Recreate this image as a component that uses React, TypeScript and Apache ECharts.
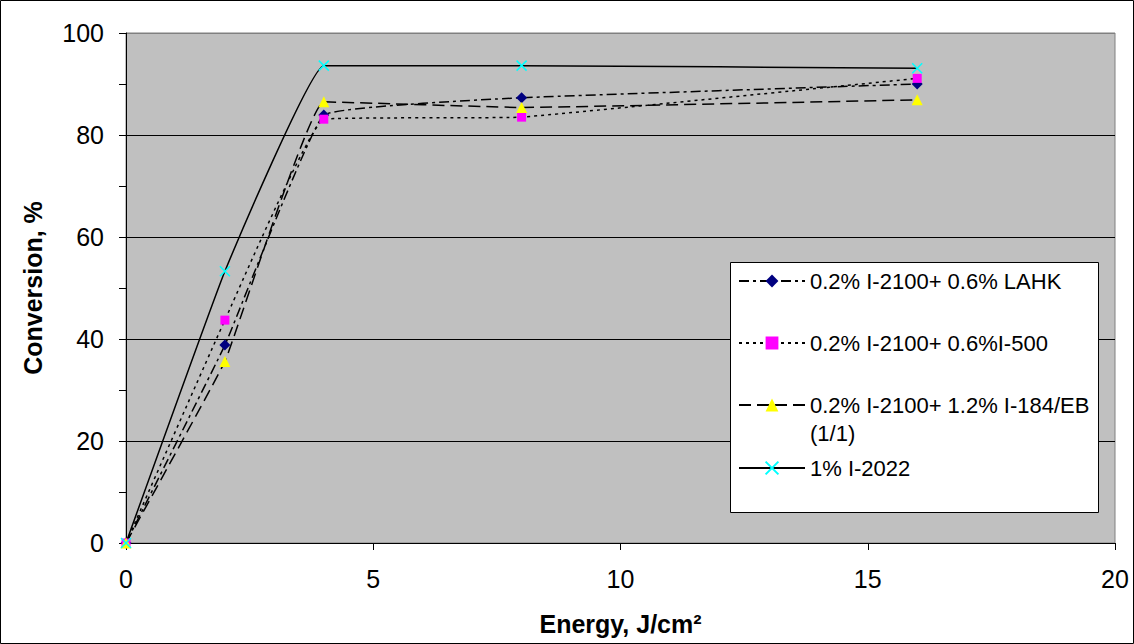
import React, { useEffect, useRef } from "react";
import * as echarts from "echarts";

const energy = [0, 2, 4, 8, 16];
const seriesNames = [
  "0.2% I-2100+ 0.6% LAHK",
  "0.2% I-2100+ 0.6%I-500",
  "0.2% I-2100+ 1.2% I-184/EB",
  "1% I-2022",
];
const lahk = [0, 38.8, 83.9, 87.3, 90.0];
const i500 = [0, 43.7, 83.1, 83.5, 91.1];
const i184 = [0, 35.6, 86.5, 85.4, 86.9];
const i2022 = [0, 53.3, 93.6, 93.6, 93.1];
const xTicks = [0, 5, 10, 15, 20];
const yTicks = [0, 20, 40, 60, 80, 100];

const FONT = 'Arial, "Liberation Sans", sans-serif';

function pairs(vals: number[]) {
  return energy.map((e, i) => [e, vals[i]]);
}

export default function App() {
  const ref = useRef<HTMLDivElement>(null);
  useEffect(() => {
    if (!ref.current) return;
    const chart = echarts.init(ref.current, undefined, { renderer: "svg" });
    const lineBase = { color: "#000", width: 1.5 };
    const legendRows = [281, 343, 405, 468];
    const legends = seriesNames.map((name, i) => ({
      show: true,
      orient: "vertical",
      left: 738,
      top: i === 2 ? legendRows[i] - 42 : legendRows[i] - 14,
      padding: 0,
      itemWidth: 66,
      itemHeight: 16,
      itemGap: 0,
      selectedMode: false,
      z: 10,
      data: [{ name }],
      formatter: i === 2 ? () => " \n0.2% I-2100+ 1.2% I-184/EB\n(1/1)" : undefined,
      textStyle: { fontSize: 22, lineHeight: 28, color: "#000", fontFamily: FONT },
    }));
    chart.setOption({
      animation: false,
      backgroundColor: "#fff",
      textStyle: { fontFamily: FONT },
      grid: {
        left: 126,
        top: 33,
        right: 19,
        bottom: 101,
        show: true,
        backgroundColor: "#c0c0c0",
        borderColor: "#808080",
        borderWidth: 1,
        containLabel: false,
      },
      legend: legends,
      graphic: [
        {
          type: "rect",
          z: 100,
          shape: { x: 0.5, y: 0.5, width: 1133, height: 643 },
          style: { fill: "none", stroke: "#000", lineWidth: 1 },
          silent: true,
        },
        {
          type: "rect",
          z: 5,
          shape: { x: 730.5, y: 262.5, width: 368, height: 250 },
          style: { fill: "#fff", stroke: "#000", lineWidth: 1 },
          silent: true,
        },
      ],
      xAxis: {
        type: "value",
        min: xTicks[0],
        max: xTicks[xTicks.length - 1],
        interval: xTicks[1] - xTicks[0],
        name: "Energy, J/cm²",
        nameLocation: "middle",
        nameGap: 68,
        nameTextStyle: { fontSize: 25, fontWeight: "bold", color: "#000", fontFamily: FONT },
        axisLine: { show: true, onZero: false, lineStyle: { color: "#000", width: 1 } },
        axisTick: { show: true, length: 7, lineStyle: { color: "#000" } },
        axisLabel: { fontSize: 25, color: "#000", margin: 23, fontFamily: FONT },
        splitLine: { show: false },
      },
      yAxis: {
        type: "value",
        min: yTicks[0],
        max: yTicks[yTicks.length - 1],
        interval: yTicks[1] - yTicks[0],
        name: "Conversion, %",
        nameLocation: "middle",
        nameGap: 81,
        nameTextStyle: { fontSize: 25, fontWeight: "bold", color: "#000", fontFamily: FONT },
        axisLine: { show: true, lineStyle: { color: "#000", width: 1 } },
        axisTick: { show: true, length: 7, lineStyle: { color: "#000" } },
        minorTick: { show: true, splitNumber: 2, length: 7, lineStyle: { color: "#000" } },
        axisLabel: { fontSize: 25, color: "#000", margin: 22, fontFamily: FONT },
        splitLine: {
          show: true,
          lineStyle: { color: ["#000", "#000", "#000", "#000", "#000", "#808080"], width: 1 },
        },
      },
      series: [
        {
          name: seriesNames[0],
          type: "line",
          data: pairs(lahk),
          smooth: 0.08,
          symbol: "diamond",
          symbolSize: 11,
          itemStyle: { color: "#000080" },
          lineStyle: { ...lineBase, type: [10, 4, 3, 4] },
          z: 3,
        },
        {
          name: seriesNames[1],
          type: "line",
          data: pairs(i500),
          smooth: 0.08,
          symbol: "rect",
          symbolSize: 9,
          itemStyle: { color: "#ff00ff" },
          lineStyle: { ...lineBase, type: [3, 4] },
          z: 3,
        },
        {
          name: seriesNames[2],
          type: "line",
          data: pairs(i184),
          smooth: 0.08,
          symbol: "triangle",
          symbolSize: 11,
          itemStyle: { color: "#ffff00" },
          lineStyle: { ...lineBase, type: [12, 6] },
          z: 3,
        },
        {
          name: seriesNames[3],
          type: "line",
          data: pairs(i2022),
          smooth: 0.08,
          symbol: "path://M0,0L10,10M10,0L0,10",
          symbolSize: 10,
          itemStyle: { color: "#00ffff", borderColor: "#00ffff", borderWidth: 1.5 },
          lineStyle: { ...lineBase, type: "solid" },
          z: 3,
        },
      ],
    });
    return () => chart.dispose();
  }, []);
  return (
    <div
      ref={ref}
      style={{ position: "absolute", left: 0, top: 0, width: 1134, height: 644 }}
    />
  );
}
